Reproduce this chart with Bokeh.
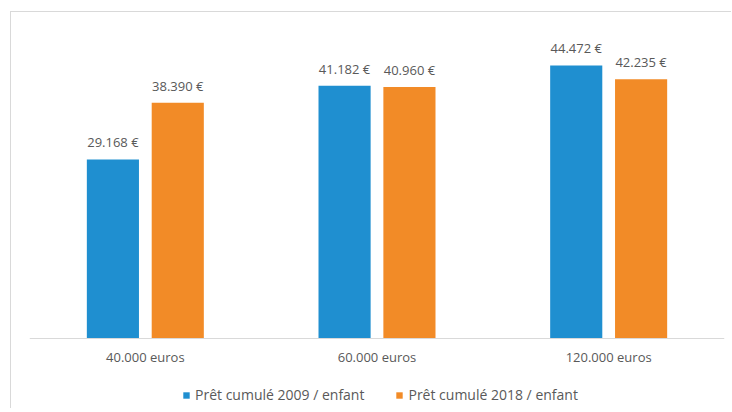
from bokeh.plotting import figure
from bokeh.models import ColumnDataSource, LabelSet, Legend, LegendItem, Range1d
from bokeh.core.properties import value
from bokeh.transform import dodge
from bokeh.embed import file_html
from bokeh.resources import INLINE

categories = ["40.000 euros", "60.000 euros", "120.000 euros"]
pret_2009 = [29168, 41182, 44472]
pret_2018 = [38390, 40960, 42235]
series_names = ["Prêt cumulé 2009 / enfant", "Prêt cumulé 2018 / enfant"]

BLUE = "#1F8FD0"
ORANGE = "#F28B27"
TEXT = "#595959"
FONT = "Open Sans"


def fmt(v):
    return f"{v:,}".replace(",", ".") + " €"


src = ColumnDataSource(dict(
    cat=categories,
    v09=pret_2009,
    v18=pret_2018,
    t09=[fmt(v) for v in pret_2009],
    t18=[fmt(v) for v in pret_2018],
))

p = figure(x_range=categories, y_range=Range1d(-11400, 50000),
           frame_width=695, frame_height=377, output_backend="svg", toolbar_location=None,
           min_border_left=18, min_border_right=7, min_border_top=19, min_border_bottom=0)
p.margin = (11, 0, 0, 10)
p.styles = {"border-top": "1px solid #D9D9D9", "border-left": "1px solid #D9D9D9"}

p.outline_line_color = None
p.xgrid.grid_line_color = None
p.ygrid.grid_line_color = None
p.yaxis.visible = False

b1 = p.vbar(x=dodge("cat", -0.14, range=p.x_range), top="v09", width=0.225,
            source=src, fill_color=BLUE, line_color=None)
b2 = p.vbar(x=dodge("cat", 0.14, range=p.x_range), top="v18", width=0.225,
            source=src, fill_color=ORANGE, line_color=None)

for off, ycol, tcol in [(-0.14, "v09", "t09"), (0.14, "v18", "t18")]:
    p.add_layout(LabelSet(x=dodge("cat", off, range=p.x_range), y=ycol, text=tcol, source=src,
                          text_align="center", text_baseline="alphabetic", y_offset=12,
                          text_font=value(FONT), text_font_size=value("13px"),
                          text_color=TEXT))

ax = p.xaxis[0]
ax.fixed_location = 0
ax.axis_line_color = "#D9D9D9"
ax.axis_line_width = 1
ax.major_tick_line_color = None
ax.minor_tick_line_color = None
ax.major_label_text_font = FONT
ax.major_label_text_font_size = "13px"
ax.major_label_text_color = TEXT
ax.major_label_standoff = 3

legend = Legend(items=[LegendItem(label=series_names[0], renderers=[b1]),
                       LegendItem(label=series_names[1], renderers=[b2])],
                orientation="horizontal", location=(153, 4),
                label_text_font=FONT, label_text_font_size="14px", label_text_color=TEXT,
                glyph_width=8, glyph_height=8, label_standoff=5, spacing=31,
                border_line_color=None, background_fill_alpha=0, margin=0, padding=1)
p.add_layout(legend)

open("out.html", "w").write(file_html(p, INLINE))
